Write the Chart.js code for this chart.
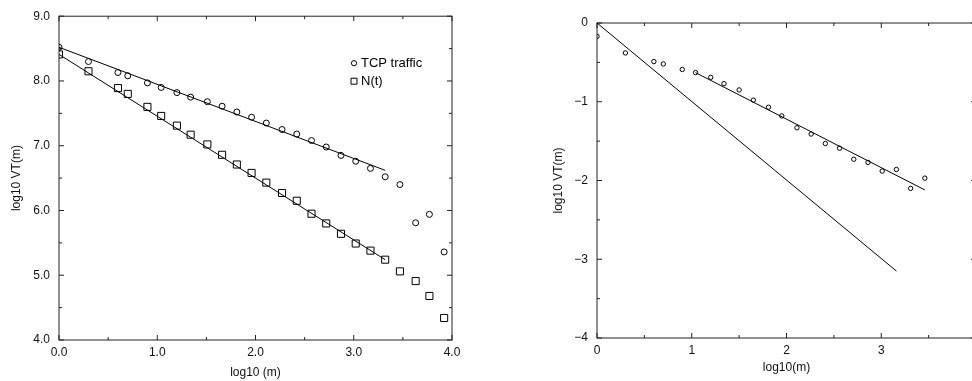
<!DOCTYPE html>
<html lang="en">
<head>
<meta charset="UTF-8">
<title>Variance-time plots</title>
<script src="https://cdn.jsdelivr.net/npm/chart.js"></script>
<style>
  body { margin: 0; background: #fff; width: 972px; height: 381px; overflow: hidden; position: relative; }
  .plot { position: absolute; top: 0; height: 381px; }
  #left { left: 0; width: 480px; }
  #right { left: 500px; width: 500px; }
</style>
</head>
<body>
<div class="plot" id="left"><canvas id="tcpChart"></canvas></div>
<div class="plot" id="right"><canvas id="vtChart"></canvas></div>
<script>
// left panel: TCP traffic vs N(t)
const mX = [0, 0.30, 0.60, 0.70, 0.90, 1.04, 1.20, 1.34, 1.51, 1.66, 1.81, 1.96, 2.11, 2.27, 2.42, 2.57, 2.72, 2.87, 3.02, 3.17, 3.32, 3.47, 3.63, 3.77, 3.92];
const tcpY = [8.52, 8.30, 8.13, 8.08, 7.97, 7.90, 7.82, 7.75, 7.68, 7.61, 7.52, 7.44, 7.35, 7.25, 7.18, 7.08, 6.98, 6.85, 6.76, 6.65, 6.52, 6.40, 5.81, 5.94, 5.36];
const ntY = [8.41, 8.15, 7.89, 7.80, 7.60, 7.46, 7.31, 7.17, 7.02, 6.86, 6.71, 6.58, 6.43, 6.27, 6.15, 5.95, 5.80, 5.64, 5.49, 5.38, 5.24, 5.06, 4.91, 4.68, 4.34];
const tcpFitX = [0, 3.32];
const tcpFitY = [8.52, 6.62];
const ntFitX = [0, 3.32];
const ntFitY = [8.41, 5.24];
const leftXTicks = [0, 1, 2, 3, 4];
const leftYTicks = [4, 5, 6, 7, 8, 9];
const legendLabels = ['TCP traffic', 'N(t)'];

// right panel
const vtX = [0, 0.30, 0.60, 0.70, 0.90, 1.04, 1.20, 1.34, 1.50, 1.65, 1.81, 1.95, 2.11, 2.26, 2.41, 2.56, 2.71, 2.86, 3.01, 3.16, 3.31, 3.46];
const vtY = [-0.17, -0.38, -0.49, -0.52, -0.59, -0.63, -0.69, -0.77, -0.85, -0.98, -1.07, -1.18, -1.33, -1.41, -1.53, -1.59, -1.73, -1.77, -1.88, -1.86, -2.10, -1.97];
const refX = [0, 3.16];
const refY = [0, -3.15];
const vtFitX = [1.04, 3.46];
const vtFitY = [-0.63, -2.12];
const rightXTicks = [0, 1, 2, 3, 4];
const rightYTicks = [-4, -3, -2, -1, 0];

const FONT = '"Liberation Sans", Arial, Helvetica, sans-serif';
Chart.defaults.font.family = FONT;
Chart.defaults.color = '#111';

const pts = (xs, ys) => xs.map((x, i) => ({ x: x, y: ys[i] }));

// box round the plot with short inward ticks every half unit
const framePlugin = {
  id: 'frame',
  beforeDatasetsDraw(chart) {
    const { ctx, chartArea: a, scales: { x, y } } = chart;
    ctx.save();
    ctx.strokeStyle = '#222';
    ctx.lineWidth = 1;
    ctx.strokeRect(a.left, a.top, a.right - a.left, a.bottom - a.top);
    ctx.beginPath();
    for (let v = x.min; v <= x.max + 1e-9; v += 0.5) {
      const px = x.getPixelForValue(v);
      const len = Math.abs(v - Math.round(v)) < 1e-6 ? 5 : 3;
      ctx.moveTo(px, a.bottom); ctx.lineTo(px, a.bottom - len);
      ctx.moveTo(px, a.top); ctx.lineTo(px, a.top + len);
    }
    for (let v = y.min; v <= y.max + 1e-9; v += 0.5) {
      const py = y.getPixelForValue(v);
      const len = Math.abs(v - Math.round(v)) < 1e-6 ? 5 : 3;
      ctx.moveTo(a.left, py); ctx.lineTo(a.left + len, py);
      ctx.moveTo(a.right, py); ctx.lineTo(a.right - len, py);
    }
    ctx.stroke();
    ctx.restore();
  }
};

const keyPlugin = {
  id: 'key',
  afterDraw(chart) {
    const { ctx, chartArea: a } = chart;
    const x0 = a.left + 295, y0 = a.top + 47;
    ctx.save();
    ctx.font = '13px ' + FONT;
    ctx.fillStyle = '#000';
    ctx.strokeStyle = '#000';
    ctx.lineWidth = 1;
    ctx.textBaseline = 'middle';
    legendLabels.forEach((label, i) => {
      const yy = y0 + i * 18;
      ctx.beginPath();
      if (i === 0) ctx.arc(x0, yy, 2.6, 0, Math.PI * 2);
      else ctx.rect(x0 - 3, yy - 3, 6, 6);
      ctx.stroke();
      ctx.fillText(label, x0 + 7, yy);
    });
    ctx.restore();
  }
};

function axis(ticksArr, fmt, size, tickPad, title, titlePad) {
  return {
    type: 'linear',
    min: ticksArr[0],
    max: ticksArr[ticksArr.length - 1],
    afterBuildTicks: s => { s.ticks = ticksArr.map(v => ({ value: v })); },
    afterFit: s => { if (s.isHorizontal()) s.height = size; else s.width = size; },
    grid: { display: false, drawTicks: false, tickLength: 0 },
    border: { display: false },
    ticks: { callback: fmt, padding: tickPad, autoSkip: false, font: { size: 12 }, color: '#111', maxRotation: 0 },
    title: { display: true, text: title, font: { size: 12 }, color: '#111', padding: titlePad }
  };
}

const circle = (data, r) => ({
  data: data, showLine: false, pointStyle: 'circle', pointRadius: r,
  borderColor: '#000', backgroundColor: 'rgba(0,0,0,0)', pointBorderWidth: 1
});
const square = data => ({
  data: data, showLine: false, pointStyle: 'rect', pointRadius: 5,
  borderColor: '#000', backgroundColor: 'rgba(0,0,0,0)', pointBorderWidth: 1
});
const line = data => ({
  data: data, showLine: true, pointRadius: 0, borderColor: '#000', borderWidth: 1, fill: false
});

const common = {
  responsive: true,
  maintainAspectRatio: false,
  animation: false,
  events: [],
  plugins: { legend: { display: false }, tooltip: { enabled: false } }
};

new Chart(document.getElementById('tcpChart'), {
  type: 'scatter',
  data: {
    datasets: [
      circle(pts(mX, tcpY), 3),
      square(pts(mX, ntY)),
      line(pts(tcpFitX, tcpFitY)),
      line(pts(ntFitX, ntFitY))
    ]
  },
  options: Object.assign({}, common, {
    layout: { padding: { left: 0, top: 14, right: 28, bottom: 0 } },
    scales: {
      x: axis(leftXTicks, v => v.toFixed(1), 41, 5, 'log10 (m)', { top: 0, bottom: 1 }),
      y: axis(leftYTicks, v => v.toFixed(1), 59, 9, 'log10 VT(m)', { top: 9, bottom: 0 })
    }
  }),
  plugins: [framePlugin, keyPlugin]
});

new Chart(document.getElementById('vtChart'), {
  type: 'scatter',
  data: {
    datasets: [
      circle(pts(vtX, vtY), 2.2),
      line(pts(refX, refY)),
      line(pts(vtFitX, vtFitY))
    ]
  },
  options: Object.assign({}, common, {
    layout: { padding: { left: 0, top: 23, right: 24, bottom: 0 } },
    scales: {
      x: axis(rightXTicks, v => String(v), 43, 5, 'log10(m)', { top: 0, bottom: 6 }),
      y: axis(rightYTicks, v => (v < 0 ? '\u2212' + Math.abs(v) : String(v)), 97, 9, 'log10 VT(m)', { top: 51, bottom: 0 })
    }
  }),
  plugins: [framePlugin]
});
</script>
</body>
</html>
